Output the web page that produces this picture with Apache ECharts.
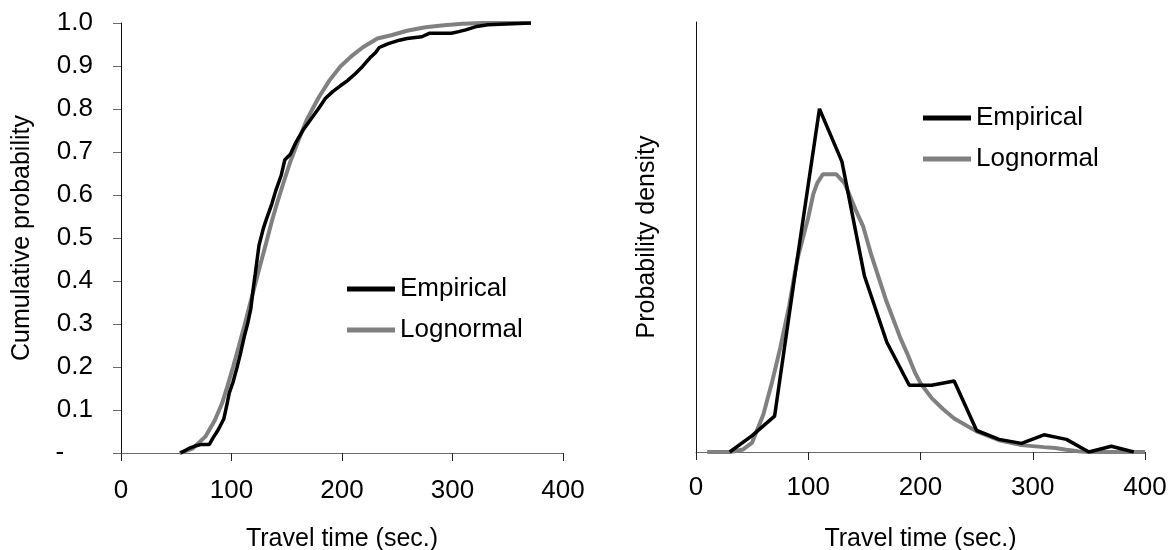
<!DOCTYPE html>
<html>
<head>
<meta charset="utf-8">
<script src="https://cdn.jsdelivr.net/npm/echarts@6/dist/echarts.min.js"></script>
<style>
  html, body { margin: 0; padding: 0; background: #fff; }
  #chart { width: 1169px; height: 550px; }
</style>
</head>
<body>
<div id="chart"></div>
<script>
// left panel: cumulative probability
const empCdfTime = [54, 61, 68, 73, 80, 83, 88, 93, 95.4, 98, 101.4, 104.8, 108, 111.5, 114.8, 117.5, 119.8, 121.5, 123.2, 124.9,
  128.9, 131.6, 136.6, 139.9, 145, 148.3, 153.3, 158.4, 165, 171.8, 178.5, 185.1, 191.8, 198.5, 205, 212, 218.6, 225.3,
  230.3, 233.7, 242, 252, 258.8, 272.2, 279, 299, 305.6, 312, 322, 332, 371];
const empCdfProb = [0, 0.01, 0.017, 0.02, 0.02, 0.034, 0.054, 0.079, 0.107, 0.14, 0.165, 0.197, 0.23, 0.27, 0.303, 0.336, 0.385, 0.417, 0.45, 0.483,
  0.523, 0.544, 0.58, 0.609, 0.646, 0.682, 0.695, 0.723, 0.752, 0.776, 0.8, 0.825, 0.841, 0.854, 0.866, 0.882, 0.899, 0.919,
  0.931, 0.943, 0.952, 0.96, 0.964, 0.968, 0.976, 0.976, 0.98, 0.984, 0.992, 0.996, 1.0];
const logCdfTime = [53, 64.6, 76.3, 84.7, 91.4, 96.4, 101.4, 106.4, 111.5, 116.5, 121.5, 126.5, 131.6, 136.6, 141.6, 146.6,
  153.3, 160, 168.3, 178.5, 188.5, 198.5, 208.6, 218.6, 232, 245.4, 258.8, 275.5, 292.3, 309, 327, 371];
const logCdfProb = [0, 0.01, 0.038, 0.075, 0.115, 0.156, 0.2, 0.246, 0.295, 0.344, 0.393, 0.442, 0.491, 0.54, 0.584, 0.625,
  0.678, 0.723, 0.776, 0.825, 0.866, 0.899, 0.923, 0.943, 0.964, 0.972, 0.982, 0.99, 0.995, 0.998, 1.0, 1.0];

// right panel: probability density
const empPdfTime = [30, 50, 70, 90, 110, 130, 150, 170, 190, 210, 230, 250, 270, 290, 310, 330, 350, 370, 390];
const empPdf = [0, 0.00057, 0.00125, 0.00668, 0.01197, 0.01013, 0.00615, 0.00383, 0.00233, 0.00233, 0.00248,
  0.00075, 0.00044, 0.0003, 0.0006, 0.00044, 0, 0.0002, 0];
const logPdfTime = [10, 30, 42, 50, 60, 68, 75, 83, 88, 91, 100, 104.5, 108, 113, 125, 132.6, 142.5, 149, 155.6, 169,
  182, 188, 195, 200, 210, 220, 230, 250, 270, 290, 310, 320, 330, 340, 350, 400];
const logPdf = [0, 0, 0.00009, 0.00033, 0.00131, 0.00248, 0.00362, 0.0051, 0.00624, 0.00683, 0.00818, 0.009, 0.00938,
  0.00969, 0.00969, 0.00936, 0.00842, 0.00786, 0.00695, 0.00533, 0.00398, 0.00345, 0.00278, 0.0024, 0.00188, 0.0015,
  0.00117, 0.00072, 0.00041, 0.00024, 0.00017, 0.00014, 0.00008, 0.00003, 0, 0];

const timeTicks = [0, 100, 200, 300, 400];
const seriesNames = ['Empirical', 'Lognormal'];

const FONT = "'Liberation Sans', Arial, sans-serif";
const BLACK = '#000';
const GREY = '#808080';

function zip(xs, ys) {
  return xs.map((x, i) => [x, ys[i]]);
}

function xAxisFor(gridIndex, labelMargin, nameGap) {
  return {
    type: 'value',
    gridIndex: gridIndex,
    min: timeTicks[0],
    max: timeTicks[timeTicks.length - 1],
    interval: timeTicks[1] - timeTicks[0],
    name: 'Travel time (sec.)',
    nameLocation: 'middle',
    nameGap: nameGap,
    nameTextStyle: { color: BLACK, fontSize: 25, fontFamily: FONT },
    axisLine: { show: true, lineStyle: { color: '#6a6a6a', width: 1 } },
    axisTick: { show: true, inside: false, length: 8, lineStyle: { color: '#222' } },
    axisLabel: { color: BLACK, fontSize: 26, fontFamily: FONT, margin: labelMargin },
    splitLine: { show: false }
  };
}

function legendAt(left, top) {
  return {
    orient: 'vertical',
    left: left,
    top: top,
    data: seriesNames,
    icon: 'rect',
    itemWidth: 48,
    itemHeight: 5,
    itemGap: 15,
    textStyle: { color: BLACK, fontSize: 26, fontFamily: FONT, lineHeight: 26 }
  };
}

const chart = echarts.init(document.getElementById('chart'), null, { renderer: 'canvas' });

const option = {
  backgroundColor: '#fff',
  animation: false,
  grid: [
    { left: 121, top: 23, width: 442, height: 430, outerBoundsMode: 'none', containLabel: false },
    { left: 696, top: 22, width: 449, height: 430, outerBoundsMode: 'none', containLabel: false }
  ],
  legend: [legendAt(342, 271), legendAt(918, 100)],
  xAxis: [xAxisFor(0, 25, 74), xAxisFor(1, 23, 75)],
  yAxis: [
    {
      type: 'value',
      gridIndex: 0,
      min: 0,
      max: 1,
      interval: 0.1,
      name: 'Cumulative probability',
      nameLocation: 'middle',
      nameGap: 86,
      nameTextStyle: { color: BLACK, fontSize: 25, fontFamily: FONT },
      axisLine: { show: true, lineStyle: { color: '#111', width: 1 } },
      axisTick: { show: true, inside: false, length: 8, lineStyle: { color: '#6a6a6a' } },
      axisLabel: {
        color: BLACK, fontSize: 26, fontFamily: FONT, margin: 28,
        formatter: v => (v === 0 ? '-    ' : v.toFixed(1))
      },
      splitLine: { show: false }
    },
    {
      type: 'value',
      gridIndex: 1,
      min: 0,
      max: 0.015,
      name: 'Probability density',
      nameLocation: 'middle',
      nameGap: 36,
      nameTextStyle: { color: BLACK, fontSize: 25, fontFamily: FONT },
      axisLine: { show: true, lineStyle: { color: '#111', width: 1 } },
      axisTick: { show: false },
      axisLabel: { show: false },
      splitLine: { show: false }
    }
  ],
  series: []
};

const panels = [
  { grid: 0, data: [zip(empCdfTime, empCdfProb), zip(logCdfTime, logCdfProb)], widths: [3.5, 4] },
  { grid: 1, data: [zip(empPdfTime, empPdf), zip(logPdfTime, logPdf)], widths: [3.5, 4] }
];

panels.forEach(panel => {
  seriesNames.forEach((name, i) => {
    option.series.push({
      name: name,
      type: 'line',
      xAxisIndex: panel.grid,
      yAxisIndex: panel.grid,
      data: panel.data[i],
      showSymbol: false,
      symbol: 'none',
      smooth: false,
      z: i === 0 ? 3 : 2,
      lineStyle: { color: i === 0 ? BLACK : GREY, width: panel.widths[i] },
      itemStyle: { color: i === 0 ? BLACK : GREY }
    });
  });
});

chart.setOption(option);
</script>
</body>
</html>
